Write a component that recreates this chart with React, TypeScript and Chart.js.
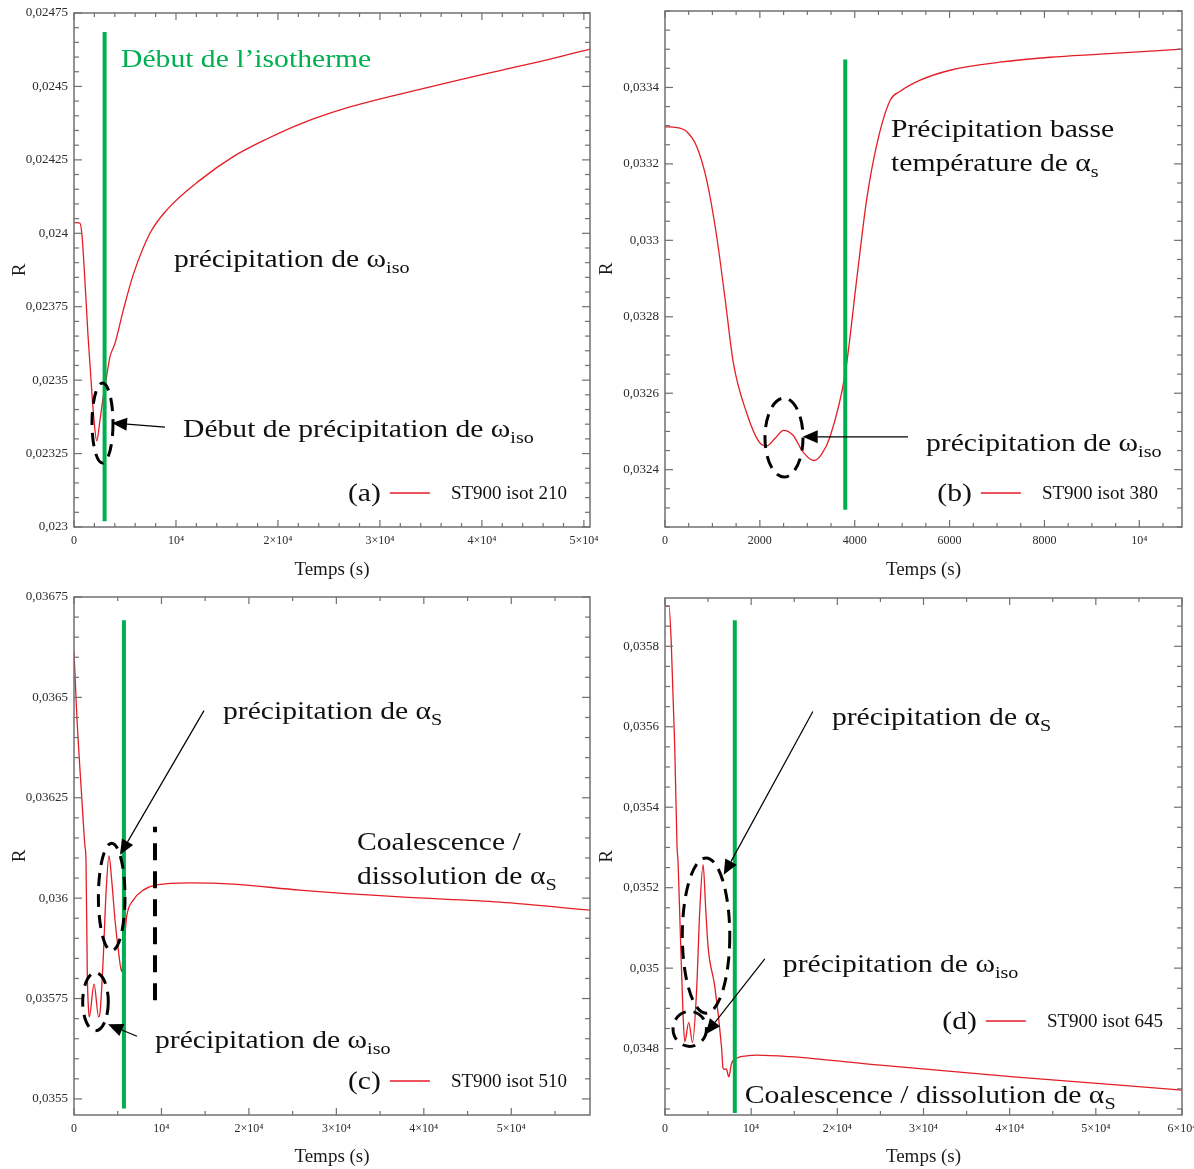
import React, { useEffect, useRef } from 'react';
import { Chart, registerables } from 'chart.js';

Chart.register(...registerables);

const RED = '#e41e26';
const GREEN = '#00b050';
const AXIS = '#707070';
const SERIF = '"Liberation Serif", "Times New Roman", serif';

// ---------------- Panel (a) ----------------
const timeA = [0, 300, 590, 780, 980, 1180, 1370, 1570, 1770, 1960, 2230, 2550, 2870, 3140, 3530, 4020, 4840, 5820, 7450, 9090, 12360, 15620, 18900, 22160, 27060, 31970, 36870, 41770, 46680, 50600];
const rA = [0.024036, 0.024036, 0.024034, 0.023994, 0.023892, 0.023773, 0.023654, 0.023552, 0.023449, 0.023364, 0.023293, 0.023364, 0.023444, 0.0235, 0.02358, 0.023625, 0.023739, 0.02386, 0.024, 0.024079, 0.024181, 0.024261, 0.024321, 0.024372, 0.02443, 0.024474, 0.024515, 0.024554, 0.024593, 0.024627];
const greenTA = [3000, 3000];
const greenRA = [0.02302, 0.024685];
const xTicksA = [0, 10000, 20000, 30000, 40000, 50000];
const xLabelsA = ['0', '10⁴', '2×10⁴', '3×10⁴', '4×10⁴', '5×10⁴'];
const yTicksA = [0.023, 0.02325, 0.0235, 0.02375, 0.024, 0.02425, 0.0245, 0.02475];
const yLabelsA = ['0,023', '0,02325', '0,0235', '0,02375', '0,024', '0,02425', '0,0245', '0,02475'];

// ---------------- Panel (b) ----------------
const timeB = [0, 250, 460, 670, 880, 1090, 1270, 1440, 1720, 2000, 2150, 2320, 2500, 2700, 2900, 3140, 3300, 3480, 3800, 4040, 4250, 4470, 4750, 4960, 5380, 6010, 7060, 8120, 9170, 10900];
const rB = [0.033297, 0.033295, 0.033284, 0.033245, 0.033157, 0.03301, 0.032844, 0.03268, 0.032549, 0.03247, 0.032462, 0.032482, 0.032503, 0.03249, 0.032448, 0.032424, 0.03244, 0.032486, 0.032652, 0.032896, 0.033105, 0.033253, 0.033367, 0.03339, 0.033419, 0.033445, 0.033466, 0.033479, 0.033487, 0.0335];
const greenTB = [3800, 3800];
const greenRB = [0.032295, 0.033473];
const xTicksB = [0, 2000, 4000, 6000, 8000, 10000];
const xLabelsB = ['0', '2000', '4000', '6000', '8000', '10⁴'];
const yTicksB = [0.0324, 0.0326, 0.0328, 0.033, 0.0332, 0.0334];
const yLabelsB = ['0,0324', '0,0326', '0,0328', '0,033', '0,0332', '0,0334'];

// ---------------- Panel (c) ----------------
const timeC = [0, 310, 880, 1260, 1370, 1520, 1640, 1750, 2290, 2820, 3000, 3350, 3660, 4000, 4310, 4690, 5070, 5450, 5710, 5830, 6020, 6780, 7920, 9450, 13260, 18210, 25840, 37270, 48710, 59000];
const rC = [0.036614, 0.03646, 0.036253, 0.036128, 0.036095, 0.035813, 0.03573, 0.035704, 0.035786, 0.035704, 0.03572, 0.035854, 0.036012, 0.036105, 0.036045, 0.035945, 0.035871, 0.035817, 0.035898, 0.035912, 0.035954, 0.035995, 0.03602, 0.036033, 0.036038, 0.036035, 0.03602, 0.036003, 0.03599, 0.03597];
const greenTC = [5710, 5710];
const greenRC = [0.035476, 0.036692];
const dashTC = [9260, 9260];
const dashRC = [0.035746, 0.036178];
const xTicksC = [0, 10000, 20000, 30000, 40000, 50000];
const xLabelsC = ['0', '10⁴', '2×10⁴', '3×10⁴', '4×10⁴', '5×10⁴'];
const yTicksC = [0.0355, 0.03575, 0.036, 0.03625, 0.0365, 0.03675];
const yLabelsC = ['0,0355', '0,03575', '0,036', '0,03625', '0,0365', '0,03675'];

// ---------------- Panel (d) ----------------
const timeD = [0, 470, 740, 1130, 1400, 1510, 1790, 2090, 2290, 2760, 3190, 3650, 4040, 4420, 4730, 5000, 5780, 6560, 6740, 6940, 7100, 7410, 7720, 8300, 9470, 10630, 14500, 24970, 40470, 60000];
const rD = [0.0359, 0.0359, 0.0358, 0.03555, 0.0353, 0.035267, 0.035079, 0.034888, 0.034817, 0.034865, 0.034815, 0.034937, 0.035145, 0.035257, 0.035145, 0.035053, 0.034954, 0.034804, 0.034751, 0.034748, 0.03475, 0.03473, 0.034763, 0.034776, 0.034782, 0.034784, 0.03478, 0.034759, 0.03473, 0.034697];
const greenTD = [8100, 8100];
const greenRD = [0.03464, 0.035865];
const xTicksD = [0, 10000, 20000, 30000, 40000, 50000, 60000];
const xLabelsD = ['0', '10⁴', '2×10⁴', '3×10⁴', '4×10⁴', '5×10⁴', '6×10⁴'];
const yTicksD = [0.0348, 0.035, 0.0352, 0.0354, 0.0356, 0.0358];
const yLabelsD = ['0,0348', '0,035', '0,0352', '0,0354', '0,0356', '0,0358'];

type Seg = { t: string; sub?: boolean };
type Note = { x: number; y: number; segs: Seg[]; color?: string };
type Arrow = { x1: number; y1: number; x2: number; y2: number };
type Ell = { x: number; y: number; rx: number; ry: number };

const OMEGA_ISO: Seg[] = [{ t: 'précipitation de ω' }, { t: 'iso', sub: true }];
const ALPHA_S: Seg[] = [{ t: 'précipitation de α' }, { t: 'S', sub: true }];

const notesA: Note[] = [
  { x: 4609, y: 0.0245661, segs: [{ t: 'Début de l’isotherme' }], color: GREEN },
  { x: 9806, y: 0.023885, segs: OMEGA_ISO },
  { x: 10688, y: 0.0233064, segs: [{ t: 'Début de précipitation de ω' }, { t: 'iso', sub: true }] },
];
const arrowsA: Arrow[] = [{ x1: 8923, y1: 0.02334, x2: 3726, y2: 0.023354 }];
const ellipsesA: Ell[] = [{ x: 2795, y: 0.023354, rx: 1030, ry: 0.000136 }];

const notesB: Note[] = [
  { x: 4765, y: 0.0332703, segs: [{ t: 'Précipitation basse' }] },
  { x: 4765, y: 0.0331814, segs: [{ t: 'température de α' }, { t: 's', sub: true }] },
  { x: 5503, y: 0.0324488, segs: OMEGA_ISO },
];
const arrowsB: Arrow[] = [{ x1: 5123, y1: 0.032486, x2: 2903, y2: 0.032486 }];
const ellipsesB: Ell[] = [{ x: 2509, y: 0.032484, rx: 401, ry: 0.0001033 }];

const notesC: Note[] = [
  { x: 17036, y: 0.0364466, segs: ALPHA_S },
  { x: 32358, y: 0.03612, segs: [{ t: 'Coalescence /' }] },
  { x: 32358, y: 0.0360353, segs: [{ t: 'dissolution de α' }, { t: 'S', sub: true }] },
  { x: 9261, y: 0.0356264, segs: OMEGA_ISO },
];
const arrowsC: Arrow[] = [
  { x1: 14864, y1: 0.036467, x2: 5260, y2: 0.036108 },
  { x1: 7203, y1: 0.035656, x2: 3888, y2: 0.035686 },
];
const ellipsesC: Ell[] = [
  { x: 4311, y: 0.036003, rx: 1521, ry: 0.000134 },
  { x: 2458, y: 0.035742, rx: 1464, ry: 0.0000723 },
];

const notesD: Note[] = [
  { x: 19368, y: 0.0356052, segs: ALPHA_S },
  { x: 13675, y: 0.0349908, segs: OMEGA_ISO },
  { x: 9260, y: 0.0346649, segs: [{ t: 'Coalescence / dissolution de α' }, { t: 'S', sub: true }] },
];
const arrowsD: Arrow[] = [
  { x1: 17160, y1: 0.035638, x2: 6820, y2: 0.035232 },
  { x1: 11584, y1: 0.035023, x2: 4729, y2: 0.034836 },
];
const ellipsesD: Ell[] = [
  { x: 4764, y: 0.035081, rx: 2754, ry: 0.000193 },
  { x: 2870, y: 0.034849, rx: 1940, ry: 0.0000435 },
];

type Panel = {
  key: string;
  left: number; top: number; w: number; h: number;
  area: { l: number; t: number; r: number; b: number };
  time: number[]; r: number[];
  greenT: number[]; greenR: number[];
  dashT?: number[]; dashR?: number[];
  xMin: number; xMax: number; yMin: number; yMax: number;
  xTicks: number[]; xLabels: string[]; xMinor: number;
  yTicks: number[]; yLabels: string[]; yMinor: number;
  notes: Note[]; arrows: Arrow[]; ellipses: Ell[];
  legendTag: string; legendLabel: string; legendRight: number; legendBottom: number;
  yTitlePad: number; xTitlePad: number;
};

const PANELS: Panel[] = [
  {
    key: 'a', left: 0, top: 0, w: 620, h: 585, area: { l: 74, t: 13, r: 590, b: 527 },
    time: timeA, r: rA, greenT: greenTA, greenR: greenRA,
    xMin: 0, xMax: 50600, yMin: 0.023, yMax: 0.02475,
    xTicks: xTicksA, xLabels: xLabelsA, xMinor: 2000,
    yTicks: yTicksA, yLabels: yLabelsA, yMinor: 0.00005,
    notes: notesA, arrows: arrowsA, ellipses: ellipsesA,
    legendTag: '(a)', legendLabel: 'ST900 isot 210', legendRight: 23, legendBottom: 28,
    yTitlePad: 11, xTitlePad: 4,
  },
  {
    key: 'b', left: 597, top: 0, w: 597, h: 585, area: { l: 68, t: 11, r: 585, b: 527 },
    time: timeB, r: rB, greenT: greenTB, greenR: greenRB,
    xMin: 0, xMax: 10900, yMin: 0.03225, yMax: 0.0336,
    xTicks: xTicksB, xLabels: xLabelsB, xMinor: 500,
    yTicks: yTicksB, yLabels: yLabelsB, yMinor: 0.00005,
    notes: notesB, arrows: arrowsB, ellipses: ellipsesB,
    legendTag: '(b)', legendLabel: 'ST900 isot 380', legendRight: 24, legendBottom: 28,
    yTitlePad: 1, xTitlePad: 4,
  },
  {
    key: 'c', left: 0, top: 585, w: 620, h: 584, area: { l: 74, t: 12, r: 590, b: 530 },
    time: timeC, r: rC, greenT: greenTC, greenR: greenRC, dashT: dashTC, dashR: dashRC,
    xMin: 0, xMax: 59000, yMin: 0.03546, yMax: 0.03675,
    xTicks: xTicksC, xLabels: xLabelsC, xMinor: 5000,
    yTicks: yTicksC, yLabels: yLabelsC, yMinor: 0.00005,
    notes: notesC, arrows: arrowsC, ellipses: ellipsesC,
    legendTag: '(c)', legendLabel: 'ST900 isot 510', legendRight: 23, legendBottom: 28,
    yTitlePad: 11, xTitlePad: 1,
  },
  {
    key: 'd', left: 597, top: 585, w: 597, h: 584, area: { l: 68, t: 13, r: 585, b: 530 },
    time: timeD, r: rD, greenT: greenTD, greenR: greenRD,
    xMin: 0, xMax: 60000, yMin: 0.034635, yMax: 0.03592,
    xTicks: xTicksD, xLabels: xLabelsD, xMinor: 5000,
    yTicks: yTicksD, yLabels: yLabelsD, yMinor: 0.00005,
    notes: notesD, arrows: arrowsD, ellipses: ellipsesD,
    legendTag: '(d)', legendLabel: 'ST900 isot 645', legendRight: 19, legendBottom: 88,
    yTitlePad: 1, xTitlePad: 1,
  },
];

const ANNOT_SIZE = 26;
const STRETCH = 1.14;

function drawRich(ctx: CanvasRenderingContext2D, segs: Seg[], x: number, y: number, size: number, color: string, stretch: number) {
  ctx.save();
  ctx.translate(x, y);
  ctx.scale(stretch, 1);
  ctx.fillStyle = color;
  ctx.textBaseline = 'alphabetic';
  ctx.textAlign = 'left';
  let cx = 0;
  for (const s of segs) {
    const fs = s.sub ? size * 0.68 : size;
    ctx.font = `${fs}px ${SERIF}`;
    ctx.fillText(s.t, cx, s.sub ? size * 0.24 : 0);
    cx += ctx.measureText(s.t).width;
  }
  ctx.restore();
  return cx * stretch;
}

function measureRich(ctx: CanvasRenderingContext2D, segs: Seg[], size: number, stretch: number) {
  ctx.save();
  let w = 0;
  for (const s of segs) {
    ctx.font = `${s.sub ? size * 0.68 : size}px ${SERIF}`;
    w += ctx.measureText(s.t).width;
  }
  ctx.restore();
  return w * stretch;
}

function drawArrow(ctx: CanvasRenderingContext2D, x1: number, y1: number, x2: number, y2: number) {
  const ang = Math.atan2(y2 - y1, x2 - x1);
  const L = 15, W = 6.5;
  const bx = x2 - L * Math.cos(ang), by = y2 - L * Math.sin(ang);
  ctx.beginPath();
  ctx.moveTo(x1, y1);
  ctx.lineTo(bx, by);
  ctx.lineWidth = 1.2;
  ctx.strokeStyle = '#000';
  ctx.setLineDash([]);
  ctx.stroke();
  ctx.beginPath();
  ctx.moveTo(x2, y2);
  ctx.lineTo(bx + W * Math.sin(ang), by - W * Math.cos(ang));
  ctx.lineTo(bx - W * Math.sin(ang), by + W * Math.cos(ang));
  ctx.closePath();
  ctx.fillStyle = '#000';
  ctx.fill();
}

function makePlugin(p: Panel) {
  return {
    id: 'decor_' + p.key,
    afterDraw(chart: any) {
      const { ctx, chartArea: a, scales } = chart;
      const xs = scales.x, ys = scales.y;
      ctx.save();
      ctx.strokeStyle = AXIS;
      ctx.lineWidth = 1.5;
      ctx.setLineDash([]);
      ctx.strokeRect(a.left, a.top, a.right - a.left, a.bottom - a.top);
      ctx.lineWidth = 1.2;
      const seg = (x1: number, y1: number, x2: number, y2: number) => {
        ctx.beginPath(); ctx.moveTo(x1, y1); ctx.lineTo(x2, y2); ctx.stroke();
      };
      const isMajor = (v: number, arr: number[], step: number) => arr.some((m) => Math.abs(m - v) < step * 1e-3);
      const kx0 = Math.ceil(p.xMin / p.xMinor - 1e-6), kx1 = Math.floor(p.xMax / p.xMinor + 1e-6);
      for (let k = kx0; k <= kx1; k++) {
        const v = k * p.xMinor;
        const len = isMajor(v, p.xTicks, p.xMinor) ? 7 : 4;
        const px = xs.getPixelForValue(v);
        seg(px, a.bottom, px, a.bottom - len);
        seg(px, a.top, px, a.top + len);
      }
      const ky0 = Math.ceil(p.yMin / p.yMinor - 1e-6), ky1 = Math.floor(p.yMax / p.yMinor + 1e-6);
      for (let k = ky0; k <= ky1; k++) {
        const v = k * p.yMinor;
        const len = isMajor(v, p.yTicks, p.yMinor) ? 8 : 5;
        const py = ys.getPixelForValue(v);
        seg(a.left, py, a.left + len, py);
        seg(a.right, py, a.right - len, py);
      }
      ctx.strokeStyle = '#000';
      ctx.lineWidth = 3;
      ctx.setLineDash([13, 8]);
      for (const e of p.ellipses) {
        const cx = xs.getPixelForValue(e.x), cy = ys.getPixelForValue(e.y);
        const rx = Math.abs(xs.getPixelForValue(e.x + e.rx) - cx);
        const ry = Math.abs(ys.getPixelForValue(e.y + e.ry) - cy);
        ctx.beginPath();
        ctx.ellipse(cx, cy, rx, ry, 0, 0, Math.PI * 2);
        ctx.stroke();
      }
      ctx.setLineDash([]);
      for (const ar of p.arrows) {
        drawArrow(ctx, xs.getPixelForValue(ar.x1), ys.getPixelForValue(ar.y1), xs.getPixelForValue(ar.x2), ys.getPixelForValue(ar.y2));
      }
      for (const n of p.notes) {
        drawRich(ctx, n.segs, xs.getPixelForValue(n.x), ys.getPixelForValue(n.y), ANNOT_SIZE, n.color || '#111', STRETCH);
      }
      const baseY = a.bottom - p.legendBottom;
      ctx.font = `19px ${SERIF}`;
      ctx.fillStyle = '#111';
      ctx.textAlign = 'right';
      ctx.textBaseline = 'alphabetic';
      const labelRight = a.right - p.legendRight;
      ctx.fillText(p.legendLabel, labelRight, baseY);
      const lw = ctx.measureText(p.legendLabel).width;
      const lineEnd = labelRight - lw - 21;
      const lineStart = lineEnd - 40;
      ctx.strokeStyle = RED;
      ctx.lineWidth = 1.5;
      seg(lineStart, baseY - 6, lineEnd, baseY - 6);
      const tagSegs: Seg[] = [{ t: p.legendTag }];
      const tw = measureRich(ctx, tagSegs, ANNOT_SIZE, STRETCH);
      drawRich(ctx, tagSegs, lineStart - 9 - tw, baseY + 2, ANNOT_SIZE, '#111', STRETCH);
      ctx.restore();
    },
  };
}

function buildConfig(p: Panel): any {
  const datasets: any[] = [
    {
      data: p.greenT.map((t, i) => ({ x: t, y: p.greenR[i] })),
      borderColor: GREEN, borderWidth: 4, pointRadius: 0, order: 0, borderCapStyle: 'butt',
    },
    {
      data: p.time.map((t, i) => ({ x: t, y: p.r[i] })),
      borderColor: RED, borderWidth: 1.3, pointRadius: 0, order: 2, cubicInterpolationMode: 'monotone',
    },
  ];
  if (p.dashT && p.dashR) {
    const dr = p.dashR;
    datasets.push({
      data: p.dashT.map((t, i) => ({ x: t, y: dr[i] })),
      borderColor: '#000', borderWidth: 4, borderDash: [17, 11], pointRadius: 0, order: 1, borderCapStyle: 'butt',
    });
  }
  return {
    type: 'line',
    data: { datasets },
    options: {
      animation: false,
      responsive: false,
      devicePixelRatio: 1,
      layout: { padding: { top: p.area.t, right: p.w - p.area.r, left: 0, bottom: 0 } },
      plugins: { legend: { display: false }, tooltip: { enabled: false } },
      scales: {
        x: {
          type: 'linear', min: p.xMin, max: p.xMax,
          afterBuildTicks: (s: any) => { s.ticks = p.xTicks.map((v) => ({ value: v })); },
          afterFit: (s: any) => { s.height = p.h - p.area.b; s.paddingLeft = 0; s.paddingRight = 0; },
          grid: { display: false, drawTicks: false },
          border: { display: false },
          ticks: {
            autoSkip: false, maxRotation: 0, padding: 7, color: '#2a2a2a', font: { family: SERIF, size: 12 },
            callback: (_v: any, i: number) => p.xLabels[i],
          },
          title: { display: true, text: 'Temps (s)', color: '#1a1a1a', font: { family: SERIF, size: 19, lineHeight: 1.2 }, padding: { top: 0, bottom: p.xTitlePad } },
        },
        y: {
          type: 'linear', min: p.yMin, max: p.yMax,
          afterBuildTicks: (s: any) => { s.ticks = p.yTicks.map((v) => ({ value: v })); },
          afterFit: (s: any) => { s.width = p.area.l; s.paddingTop = 0; s.paddingBottom = 0; },
          grid: { display: false, drawTicks: false },
          border: { display: false },
          ticks: {
            autoSkip: false, padding: 6, color: '#2a2a2a', font: { family: SERIF, size: 13 },
            callback: (_v: any, i: number) => p.yLabels[i],
          },
          title: { display: true, text: 'R', color: '#1a1a1a', font: { family: SERIF, size: 19, lineHeight: 1 }, padding: { top: p.yTitlePad, bottom: 0 } },
        },
      },
    },
    plugins: [makePlugin(p)],
  };
}

function PanelChart({ p }: { p: Panel }) {
  const ref = useRef<HTMLCanvasElement>(null);
  useEffect(() => {
    if (!ref.current) return;
    const chart = new Chart(ref.current, buildConfig(p));
    return () => chart.destroy();
  }, [p]);
  return (
    <div style={{ position: 'absolute', left: p.left, top: p.top, width: p.w, height: p.h }}>
      <canvas ref={ref} width={p.w} height={p.h} style={{ width: p.w, height: p.h, display: 'block' }} />
    </div>
  );
}

export default function App() {
  return (
    <div style={{ position: 'absolute', left: 0, top: 0, width: 1194, height: 1169, background: '#fff', overflow: 'hidden' }}>
      {PANELS.map((p) => (
        <PanelChart key={p.key} p={p} />
      ))}
    </div>
  );
}
